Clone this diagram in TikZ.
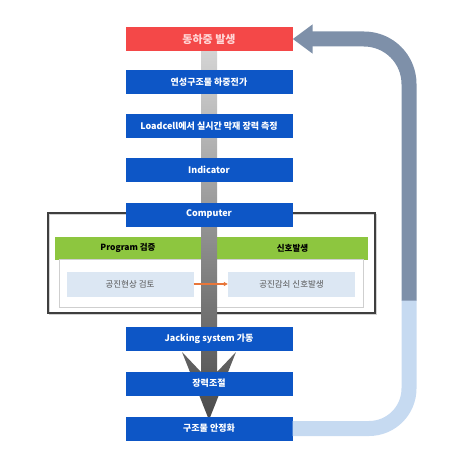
\documentclass[tikz,border=0pt]{standalone}
\usepackage{fontspec}
\setmainfont{Noto Sans CJK KR}
\usetikzlibrary{arrows.meta}
\definecolor{boxblue}{HTML}{0D56C6}
\definecolor{boxred}{HTML}{F44848}
\definecolor{redtext}{HTML}{FFD6D6}
\definecolor{bargreen}{HTML}{8DC63F}
\definecolor{lightbox}{HTML}{DCE7F3}
\definecolor{lighttext}{HTML}{555555}
\definecolor{framegray}{HTML}{3F3F3F}
\definecolor{panelline}{HTML}{CFCFCF}
\definecolor{shafttop}{HTML}{D4D4D4}
\definecolor{shaftbot}{HTML}{4A4A4A}
\definecolor{retup}{HTML}{7E90A9}
\definecolor{retlow}{HTML}{C6DAF1}
\definecolor{arroworange}{HTML}{E8763A}

\begin{document}
\begin{tikzpicture}[x=1pt,y=-1pt,
    mainbox/.style={fill=boxblue,text=white,font=\bfseries\fontsize{9}{10}\selectfont,
      minimum width=167pt,minimum height=24pt,inner sep=0pt},
    redbox/.style={mainbox,fill=boxred,text=redtext,font=\bfseries\fontsize{11}{12}\selectfont},
    greenbar/.style={fill=bargreen,text=black,font=\bfseries\fontsize{8.5}{10}\selectfont,
      minimum height=23pt,inner sep=0pt},
    lightbox/.style={fill=lightbox,text=lighttext,font=\fontsize{8.5}{10}\selectfont,
      minimum width=127pt,minimum height=25pt,inner sep=0pt}]
    \useasboundingbox (0,0) rectangle (450,452);
    % Cadre Computer
    \draw[gray!35, line width=1.5pt] (49.5,214.5) rectangle (376.5,314.5);
    \draw[framegray, line width=1.1pt] (48,213) rectangle (375,313);
    \fill[bargreen] (55,236.5) rectangle (368,259.5);
    \node[greenbar, minimum width=146pt] (prog) at (128,248) {Program 검증};
    \node[greenbar, minimum width=151pt] (signal) at (292.5,248) {신호발생};
    \draw[panelline, fill=white, line width=0.8pt] (59,259.5) rectangle (363,307);
    \node[lightbox] (check) at (130,284) {공진현상 검토};
    \node[lightbox] (damp) at (291.5,284) {공진감쇠 신호발생};
    % Fleche grise centrale
    \shade[top color=shafttop, bottom color=shaftbot]
        (201,51) -- (201,372) -- (182,352) -- (209,420) -- (236,352) -- (217,372) -- (217,51) -- cycle;
    \draw[arroworange, line width=1.2pt, -{Triangle[width=4pt,length=4pt]}] (check.east) -- (damp.west);
    % Etapes
    \node[redbox] (load) at (209,39) {동하중 발생};
    \node[mainbox] (transfer) at (209,82) {연성구조물 하중전가};
    \node[mainbox] (loadcell) at (209,126) {Loadcell에서 실시간 막재 장력 측정};
    \node[mainbox] (indicator) at (209,170) {Indicator};
    \node[mainbox] (computer) at (209,214.5) {Computer};
    \node[mainbox] (jacking) at (209,338.5) {Jacking system 가동};
    \node[mainbox] (tension) at (209,383.5) {장력조절};
    \node[mainbox] (stable) at (209,428.5) {구조물 안정화};
    % Retour
    \draw[retlow, line width=15pt, rounded corners=40pt] (stable.east) -| (409,300);
    \draw[retup, line width=15pt, rounded corners=45pt, -{Triangle[width=28pt,length=20pt]}]
        (409,300.5) |- (load.east);
\end{tikzpicture}
\end{document}
